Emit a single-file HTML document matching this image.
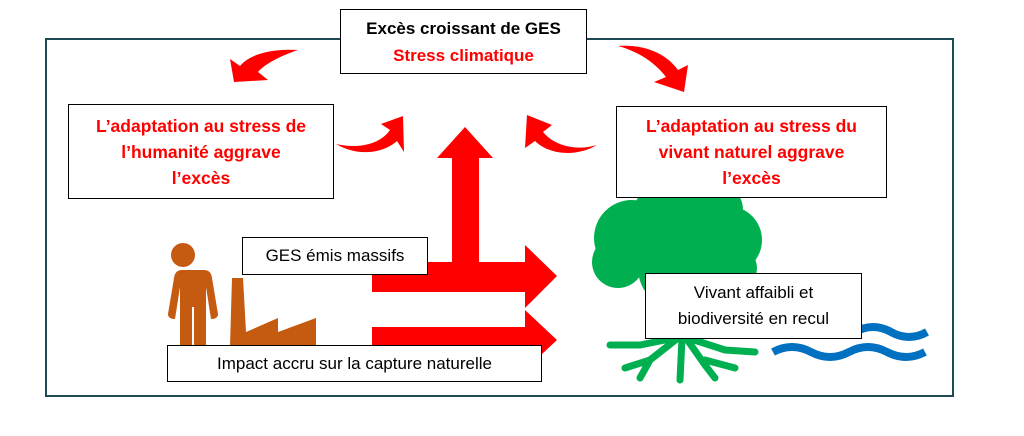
<!DOCTYPE html>
<html><head><meta charset="utf-8"><style>
body{margin:0;width:1024px;height:436px;background:#fff;position:relative;overflow:hidden;font-family:"Liberation Sans",Calibri,sans-serif}
.b{position:absolute;background:#fff;border:1.5px solid #000;box-sizing:border-box;text-align:center;display:flex;flex-direction:column;justify-content:center;align-items:center}
.r{color:#f00;font-weight:bold}
</style></head><body>
<div style="position:absolute;left:45px;top:38px;width:909px;height:359px;border:2px solid #1e4a55;box-sizing:border-box"></div>
<svg style="position:absolute;left:0;top:0" width="1024" height="436">
<g fill="#f00">
<rect x="452" y="156" width="27" height="110"/>
<polygon points="437,158 465,127 493,158"/>
<rect x="372" y="262" width="156" height="30"/>
<polygon points="525,245 557,276 525,308"/>
<rect x="372" y="327" width="156" height="25"/>
<polygon points="525,310 557,340 525,370"/>
<path d="M298,50 C268,48 248,56 240,66 L230,59 L234,82 L268,80 L258,72 C265,64 280,56 298,50Z"/>
<path d="M618,46 C648,44 668,56 678,70 L688,65 L684,92 L654,82 L666,77 C656,64 640,52 618,46Z"/>
<path d="M336,144 C362,150 382,142 390,130 L381,124 L403,116 L404,152 L397,141 C385,152 360,158 336,144Z"/>
<path d="M597,145 C573,152 553,144 543,132 L552,125 L527,115 L525,148 L535,141 C548,154 575,158 597,145Z"/>
</g>
<g fill="#c55a11">
<circle cx="183" cy="255" r="12"/>
<path d="M162,270 h42 q7,0 8,8 l6,36 q0,5 -7,5 l-5,-32 v60 h-12 v-40 h-2 v40 h-12 v-60 l-5,32 q-7,0 -7,-5 l6,-36 q1,-8 8,-8Z"/>
<polygon points="232,278 243,278 246,332 278,318 278,332 316,318 316,346 230,346"/>
</g>
<g fill="#00b050">
<circle cx="632" cy="238" r="38"/><circle cx="690" cy="222" r="38"/><circle cx="728" cy="240" r="34"/><circle cx="662" cy="212" r="28"/><circle cx="715" cy="210" r="28"/><circle cx="680" cy="268" r="42"/><circle cx="618" cy="262" r="26"/><circle cx="735" cy="268" r="22"/>
<rect x="662" y="280" width="28" height="60"/>
</g>
<g stroke="#00b050" stroke-width="7" fill="none" stroke-linecap="round">
<path d="M675,338 L640,345 L610,345"/><path d="M678,338 L650,360 L640,378"/><path d="M682,338 L680,380"/><path d="M686,338 L705,365 L715,378"/><path d="M688,338 L725,350 L755,352"/><path d="M650,360 L625,368"/><path d="M705,360 L735,368"/>
</g>
<g stroke="#0070c0" stroke-width="8" fill="none">
<path d="M855,332 q18,-10 36,0 t36,0"/>
<path d="M773,352 q19,-10 38,0 t38,0 t38,0 t38,0"/>
</g>
</svg>
<div class="b" style="left:340px;top:9px;width:247px;height:65px;font-size:17px;line-height:27px"><b>Excès croissant de GES</b><span class="r">Stress climatique</span></div>
<div class="b r" style="left:68px;top:104px;width:266px;height:95px;font-size:17.5px;line-height:26px">L’adaptation au stress de<br>l’humanité aggrave<br>l’excès</div>
<div class="b r" style="left:616px;top:106px;width:271px;height:92px;font-size:17.5px;line-height:26px">L’adaptation au stress du<br>vivant naturel aggrave<br>l’excès</div>
<div class="b" style="left:242px;top:237px;width:186px;height:38px;font-size:17px">GES émis massifs</div>
<div class="b" style="left:167px;top:345px;width:375px;height:37px;font-size:17px">Impact accru sur la capture naturelle</div>
<div class="b" style="left:645px;top:273px;width:217px;height:66px;font-size:17px;line-height:26px">Vivant affaibli et<br>biodiversité en recul</div>
</body></html>
